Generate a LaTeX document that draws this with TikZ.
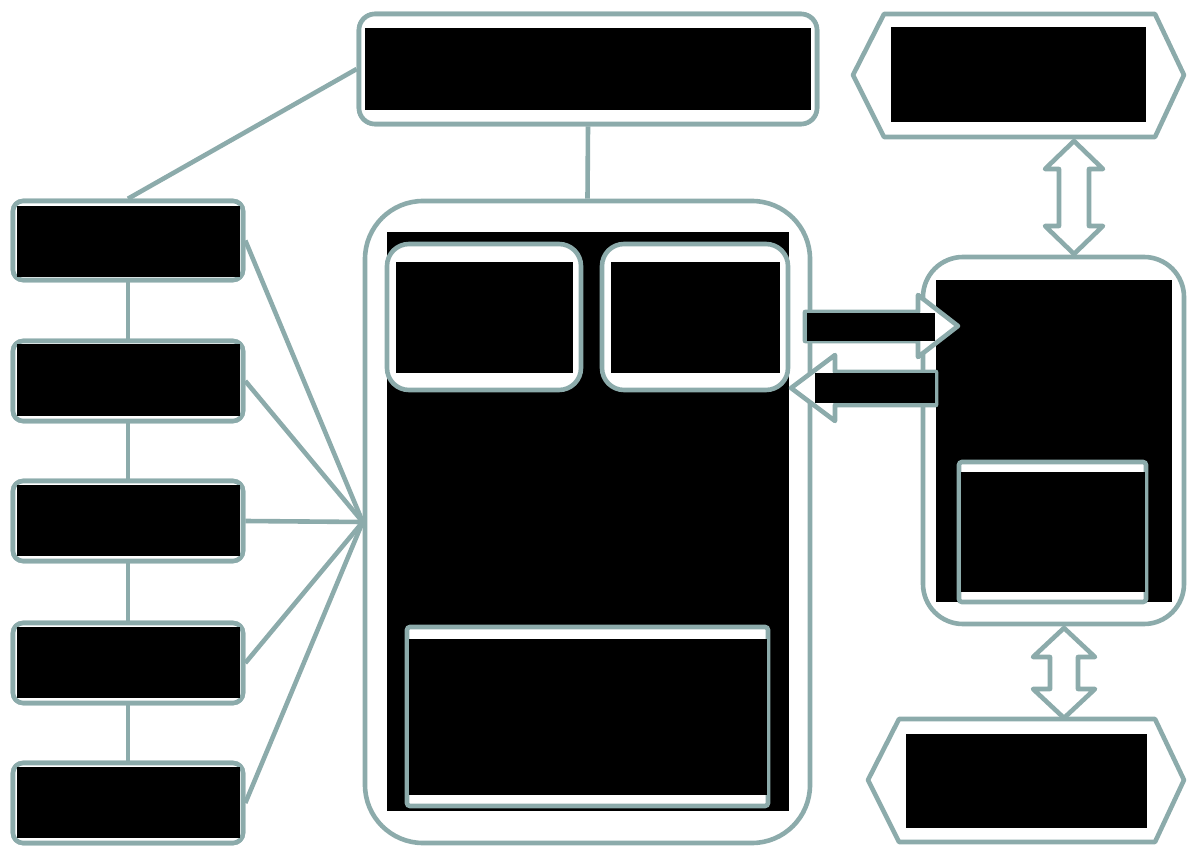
\documentclass[tikz,border=0pt]{standalone}
\definecolor{edge}{RGB}{140,171,171}
\tikzset{
  box/.style={draw=edge, line width=4.6pt, fill=white, inner sep=0pt},
  redact/.style={fill=black, draw=none, inner sep=0pt, outer sep=0pt},
  link/.style={draw=edge, line width=4.6pt},
  blockarrow/.style={draw=edge, line width=4.6pt, fill=white, line join=round},
}
\newcommand\blk[5]{\node[redact,minimum width={#4-#2},minimum height={#5-#3}] (#1) at ({(#2+#4)/2},{(#3+#5)/2}) {};}
\newcommand\dblarrow[6]{% x, y1, y2, head half width, head length, shaft half width
  \draw[blockarrow] (#1,#2) -- ({#1+#4},{#2+#5}) -- ({#1+#6},{#2+#5}) -- ({#1+#6},{#3-#5}) -- ({#1+#4},{#3-#5}) -- (#1,#3) -- ({#1-#4},{#3-#5}) -- ({#1-#6},{#3-#5}) -- ({#1-#6},{#2+#5}) -- ({#1-#4},{#2+#5}) -- cycle;}
\begin{document}
\begin{tikzpicture}[x=1pt,y=-1pt]
\useasboundingbox (0,0) rectangle (1187,848);
% node outlines
\node[box, rounded corners=16pt, minimum width=458pt, minimum height=110pt] (top) at (588,69) {};
\node[box, rounded corners=10pt, minimum width=230pt, minimum height=79pt] (l1) at (128,240.5) {};
\node[box, rounded corners=10pt, minimum width=230pt, minimum height=80pt] (l2) at (128,381) {};
\node[box, rounded corners=10pt, minimum width=230pt, minimum height=80pt] (l3) at (128,521) {};
\node[box, rounded corners=10pt, minimum width=230pt, minimum height=80pt] (l4) at (128,663) {};
\node[box, rounded corners=10pt, minimum width=230pt, minimum height=80pt] (l5) at (128,803) {};
\node[box, rounded corners=58pt, minimum width=445pt, minimum height=642pt] (mid) at (587.5,522) {};
% connectors
\path[link] (top.west) -- (l1.north);
\path[link] (top.south) -- (mid.north);
\path[link] (l1.south) -- (l2.north);
\path[link] (l2.south) -- (l3.north);
\path[link] (l3.south) -- (l4.north);
\path[link] (l4.south) -- (l5.north);
\path[link] (l1.east) -- (mid.west);
\path[link] (l2.east) -- (mid.west);
\path[link] (l3.east) -- (mid.west);
\path[link] (l4.east) -- (mid.west);
\path[link] (l5.east) -- (mid.west);
% redraw boxes over line ends
\node[box, rounded corners=16pt, minimum width=458pt, minimum height=110pt] at (588,69) {};
\node[box, rounded corners=10pt, minimum width=230pt, minimum height=79pt] at (128,240.5) {};
\node[box, rounded corners=10pt, minimum width=230pt, minimum height=80pt] at (128,381) {};
\node[box, rounded corners=10pt, minimum width=230pt, minimum height=80pt] at (128,521) {};
\node[box, rounded corners=10pt, minimum width=230pt, minimum height=80pt] at (128,663) {};
\node[box, rounded corners=10pt, minimum width=230pt, minimum height=80pt] at (128,803) {};
% right column
\node[box, rounded corners=40pt, minimum width=261pt, minimum height=367pt] (rbox) at (1053.5,440.5) {};
\draw[blockarrow] (853,75) -- (884,14) -- (1155,14) -- (1184,75) -- (1155,137) -- (884,137) -- cycle;
\draw[blockarrow] (868,780) -- (899,719) -- (1155,719) -- (1184,780) -- (1155,842) -- (899,842) -- cycle;
\dblarrow{1074}{141}{254}{29}{28}{15}
\dblarrow{1064}{628}{718}{31}{29}{14}
% redactions
\blk{t1}{365}{28}{811}{110}
\blk{b1}{17}{206}{240}{277}
\blk{b2}{17}{344}{240}{416}
\blk{b3}{17}{485}{240}{556}
\blk{b4}{17}{627}{240}{698}
\blk{b5}{17}{767}{240}{838}
\blk{hA}{891}{27}{1146}{122}
\blk{hB}{906}{734}{1147}{828}
\blk{rb}{936}{280}{1172}{602}
\blk{mb}{387}{232}{789}{811}
% block arrows between middle and right box
\draw[blockarrow] (805,312) -- (918,312) -- (918,295) -- (958,326) -- (918,357) -- (918,341) -- (805,341) -- cycle;
\draw[blockarrow] (936,372) -- (835,372) -- (835,355) -- (791,388) -- (835,421) -- (835,405) -- (936,405) -- cycle;
\blk{ra}{807}{313}{935}{341}
\blk{la}{815}{373}{935}{403}
% inner boxes
\node[box, rounded corners=22pt, minimum width=194pt, minimum height=146pt] (ml) at (484,317) {};
\node[box, rounded corners=22pt, minimum width=186pt, minimum height=146pt] (mr) at (695,317) {};
\node[box, rounded corners=3pt, minimum width=361pt, minimum height=179pt] (mbot) at (587.5,716.5) {};
\node[box, rounded corners=3pt, minimum width=187pt, minimum height=140pt] (rin) at (1052.5,532) {};
\blk{mlb}{396}{262}{573}{373}
\blk{mrb}{611}{262}{780}{373}
\blk{mbb}{409}{639}{767}{795}
\blk{rinb}{961}{472}{1145}{592}
\end{tikzpicture}
\end{document}
